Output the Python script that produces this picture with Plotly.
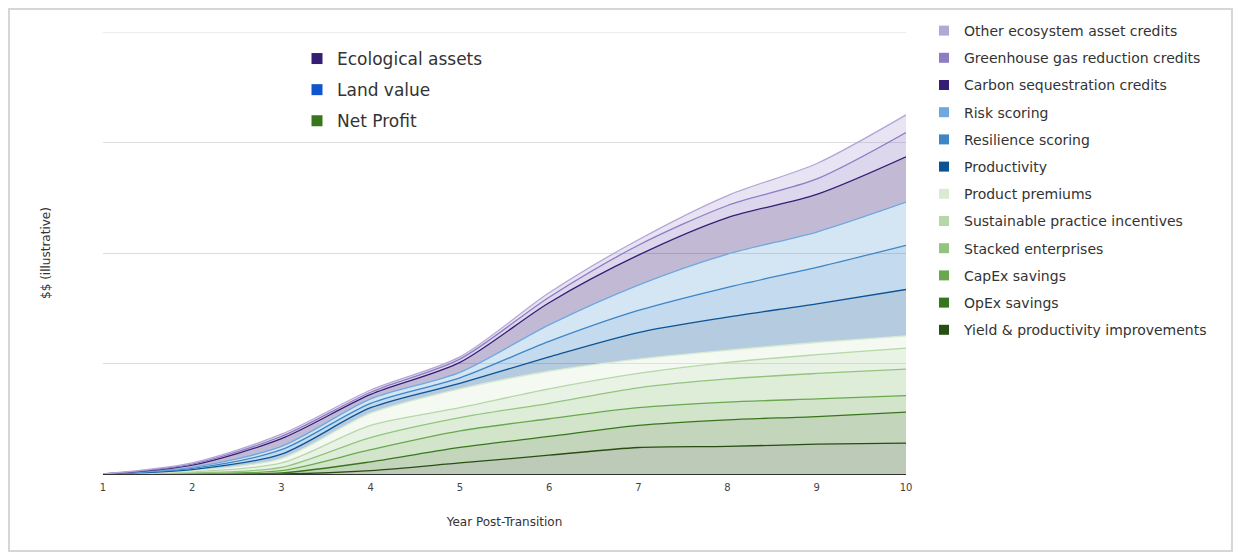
import plotly.graph_objects as go

years = [1, 2, 3, 4, 5, 6, 7, 8, 9, 10]

# Per-layer values (illustrative units; gridline spacing = 100), bottom to top
yield_impr   = [0, 0,   0, 3, 10, 17, 24, 25, 27, 28]
opex         = [0, 0,   1, 8, 14, 17, 20, 24, 25, 28]
capex        = [0, 0.5, 2, 11, 15, 16, 16, 16, 16, 15]
stacked_ent  = [0, 0.5, 3, 11, 12, 14, 18, 21, 23, 24]
sustainable  = [0, 1,   4, 11, 9, 13, 13, 15, 17, 19]
premiums     = [0, 1,   4, 11, 17, 16, 13, 11, 11, 11]
productivity = [0, 1,   4, 5, 5, 13, 24, 30, 35, 42]
resilience   = [0, 1,   4, 4, 5, 14, 20, 27, 33, 40]
risk         = [0, 1,   3, 4, 5, 15, 23, 30, 32, 39]
carbon       = [0, 2,   7, 4, 9, 20, 27, 33, 34, 41]
ghg          = [0, 1,   2, 2, 3, 5, 9, 11, 14, 22]
other_eco    = [0, 1,   2, 2, 2, 4, 5, 9, 14, 16]

series_names = [
    "Yield & productivity improvements", "OpEx savings", "CapEx savings",
    "Stacked enterprises", "Sustainable practice incentives", "Product premiums",
    "Productivity", "Resilience scoring", "Risk scoring",
    "Carbon sequestration credits", "Greenhouse gas reduction credits",
    "Other ecosystem asset credits",
]
series_values = [yield_impr, opex, capex, stacked_ent, sustainable, premiums,
                 productivity, resilience, risk, carbon, ghg, other_eco]
series_colors = ["#274e13", "#38761d", "#6aa84f", "#93c47d", "#b6d7a8", "#d9ead3",
                 "#0b5394", "#3d85c6", "#6fa8dc", "#351c75", "#8e7cc3", "#b4a7d6"]

group_names = ["Ecological assets", "Land value", "Net Profit"]
group_colors = ["#351c75", "#1155cc", "#38761d"]

gridline_values = [100, 200, 300, 400]


def rgba(hexc, a):
    h = hexc.lstrip("#")
    r, g, b = int(h[0:2], 16), int(h[2:4], 16), int(h[4:6], 16)
    return f"rgba({r},{g},{b},{a})"


fig = go.Figure()

for name, vals, col in zip(series_names, series_values, series_colors):
    fig.add_trace(go.Scatter(
        x=years, y=vals, name=name, stackgroup="one", mode="lines",
        line=dict(color=col, width=1.3, shape="spline", smoothing=0.8),
        fillcolor=rgba(col, 0.3), showlegend=False, hoverinfo="x+y+name",
    ))

# Legend entries (solid squares), top to bottom as in the reference
for name, col in zip(series_names[::-1], series_colors[::-1]):
    fig.add_trace(go.Scatter(
        x=[None], y=[None], mode="markers", name=name, legendgroup=name,
        marker=dict(symbol="square", size=10, color=col), showlegend=True,
        legend="legend",
    ))

for name, col in zip(group_names, group_colors):
    fig.add_trace(go.Scatter(
        x=[None], y=[None], mode="markers", name=name, legendgroup=name,
        marker=dict(symbol="square", size=11, color=col), showlegend=True,
        legend="legend2",
    ))

font_family = "DejaVu Sans, Liberation Sans, Arial, sans-serif"

PL, PR, PT, PB = 103, 906, 32, 474
W = PR - PL
H = PB - PT

shapes = [dict(
    type="rect", xref="paper", yref="paper",
    x0=(9 - PL) / W, x1=(1232 - PL) / W,
    y0=(PB - 551) / H, y1=(PB - 9) / H,
    line=dict(color="#d6d6d6", width=2), fillcolor="rgba(0,0,0,0)", layer="below",
)]
# top gridline (plotly skips the grid line lying on the plot edge)
shapes.append(dict(
    type="line", xref="paper", yref="y", x0=0, x1=1,
    y0=gridline_values[-1], y1=gridline_values[-1],
    line=dict(color="#dcdcdc", width=1), layer="below",
))

fig.update_layout(
    width=1240, height=558,
    paper_bgcolor="white", plot_bgcolor="white",
    margin=dict(l=PL, r=1240 - PR, t=PT, b=558 - PB),
    font=dict(family=font_family, color="#444"),
    xaxis=dict(
        range=[1, 10], tickvals=years, ticktext=[str(y) for y in years],
        showgrid=False, zeroline=False, showline=False,
        ticks="", tickfont=dict(size=10, color="#444"), ticklabelstandoff=6,
        title=dict(text="Year Post-Transition", font=dict(size=12, color="#333"), standoff=25),
    ),
    yaxis=dict(
        range=[0, 400], tickvals=gridline_values, showticklabels=False, ticks="",
        showgrid=True, gridcolor="#dcdcdc", gridwidth=1,
        zeroline=True, zerolinecolor="#333", zerolinewidth=1,
        title=dict(text="$$ (illustrative)", font=dict(size=12, color="#333"), standoff=48),
    ),
    legend=dict(
        x=(924 - PL) / W, y=(PB - 346) / H,
        xanchor="left", yanchor="bottom", traceorder="grouped", tracegroupgap=6,
        font=dict(size=14, color="#333", family=font_family),
        bgcolor="rgba(0,0,0,0)", itemclick=False,
    ),
    legend2=dict(
        x=(297 - PL) / W, y=(PB - 41) / H,
        xanchor="left", yanchor="top", traceorder="grouped", tracegroupgap=6,
        font=dict(size=17, color="#333", family=font_family),
        bgcolor="rgba(0,0,0,0)", itemclick=False,
    ),
    shapes=shapes,
)

fig.write_html("out.html")
